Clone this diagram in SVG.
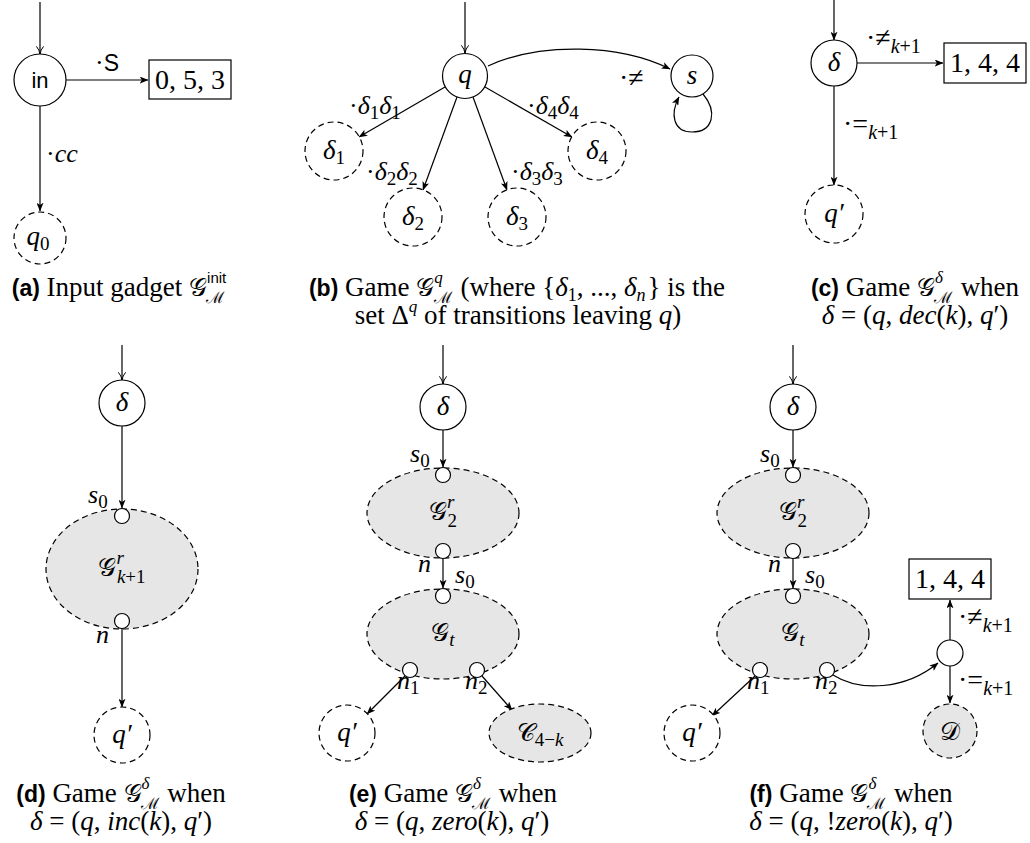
<svg xmlns="http://www.w3.org/2000/svg" width="1030" height="843" viewBox="0 0 1030 843">
<style>
.n{fill:#fff;stroke:#000;stroke-width:1.2}
.d{fill:#fff;stroke:#000;stroke-width:1.2;stroke-dasharray:6 4}
.g{fill:#e6e6e6;stroke:#000;stroke-width:1.2;stroke-dasharray:6 4}
.p{fill:#fff;stroke:#000;stroke-width:1.2}
.e{fill:none;stroke:#000;stroke-width:1.2;marker-end:url(#ah)}
.en{fill:none;stroke:#000;stroke-width:1.2;marker-end:url(#oh)}
.t{font-size:27px}
.l{font-size:26px}
.cap{font-size:27px}
.i{font-style:italic}
.b{font-weight:bold}
</style>
<defs>
<marker id="ah" viewBox="0 0 10 8" refX="9.5" refY="4" markerWidth="9" markerHeight="7" orient="auto" markerUnits="userSpaceOnUse"><path d="M0,0 L10,4 L0,8 L2.5,4 z" fill="#000"/></marker>
<marker id="oh" viewBox="0 0 10 10" refX="9.5" refY="5" markerWidth="9" markerHeight="9" orient="auto" markerUnits="userSpaceOnUse"><path d="M1,1 Q5,4.3 9.5,5 Q5,5.7 1,9" fill="none" stroke="#000" stroke-width="1.1"/></marker>
</defs>

<g id="connectors">
<line class="en" x1="40" y1="2" x2="40" y2="54"/>
<line class="e" x1="66" y1="80" x2="148" y2="80"/>
<line class="e" x1="40" y1="106" x2="40" y2="211"/>
<line class="en" x1="465" y1="2" x2="465" y2="53"/>
<line class="e" x1="445" y1="87" x2="359" y2="137"/>
<line class="e" x1="457" y1="97" x2="423" y2="190"/>
<line class="e" x1="473" y1="97" x2="507" y2="190"/>
<line class="e" x1="485" y1="87" x2="572" y2="137"/>
<path class="e" d="M488,66 C540,42 620,44 670,69"/>
<path class="e" d="M703,94 C718,112 713,132 692,132 C673,132 670,114 679,97"/>
<line class="e" x1="834" y1="0" x2="834" y2="40"/>
<line class="e" x1="857" y1="63" x2="943" y2="63"/>
<line class="e" x1="834" y1="86" x2="834" y2="185"/>
<line class="en" x1="122" y1="345" x2="122" y2="380"/>
<line class="e" x1="122" y1="426" x2="122" y2="508"/>
<line class="e" x1="122" y1="629" x2="122" y2="707"/>
<line class="en" x1="443" y1="345" x2="443" y2="384"/>
<line class="e" x1="443" y1="430" x2="443" y2="467"/>
<line class="e" x1="443" y1="559" x2="443" y2="588"/>
<line class="e" x1="405" y1="676" x2="367" y2="714"/>
<line class="e" x1="482" y1="676" x2="512" y2="710"/>
<line class="en" x1="793" y1="345" x2="793" y2="384"/>
<line class="e" x1="793" y1="430" x2="793" y2="467"/>
<line class="e" x1="793" y1="559" x2="793" y2="588"/>
<line class="e" x1="755" y1="676" x2="712" y2="716"/>
<path class="e" d="M833,675 C860,692 905,690 938,663"/>
<line class="e" x1="950" y1="640" x2="950" y2="600"/>
<line class="e" x1="950" y1="666" x2="950" y2="703"/>
</g>

<g id="a-in"><circle class="n" cx="40" cy="80" r="26"/><text font-family="Liberation Sans" font-size="22" x="40" y="88" text-anchor="middle">in</text></g>
<g id="a-box"><rect class="n" x="149" y="60" width="82" height="39"/><text font-family="Liberation Serif" font-size="28" x="190" y="89" text-anchor="middle">0, 5, 3</text></g>
<g id="a-q0"><circle class="d" cx="40" cy="238" r="26"/><text font-family="Liberation Serif" class="t" x="38" y="245" text-anchor="middle"><tspan class="i">q</tspan><tspan font-size="19" dy="5">0</tspan></text></g>
<g id="a-labels">
<text font-family="Liberation Serif" class="l" x="95" y="71">·<tspan font-family="Liberation Sans" font-size="23">S</tspan></text>
<text font-family="Liberation Serif" class="l" x="46" y="162">·<tspan class="i">cc</tspan></text>
</g>
<g id="a-caption"><text font-family="Liberation Serif" class="cap" x="119" y="296" text-anchor="middle"><tspan font-family="Liberation Sans" class="b" font-size="23">(a)</tspan> Input gadget <tspan font-family="DejaVu Serif" font-size="25">𝒢</tspan><tspan font-family="Liberation Sans" font-size="15" dy="-13">init</tspan><tspan font-family="DejaVu Serif" font-size="16" dx="-20" dy="20">ℳ</tspan></text></g>

<g id="b-q"><circle class="n" cx="465" cy="76" r="22.5"/><text font-family="Liberation Serif" class="t i" x="465" y="83" text-anchor="middle">q</text></g>
<g id="b-s"><circle class="n" cx="692" cy="76" r="21"/><text font-family="Liberation Serif" class="t i" x="692" y="84" text-anchor="middle">s</text></g>
<g id="b-d1"><circle class="d" cx="334" cy="151" r="29"/><text font-family="Liberation Serif" class="t" x="334" y="159" text-anchor="middle"><tspan class="i">δ</tspan><tspan font-size="19" dy="5">1</tspan></text></g>
<g id="b-d2"><circle class="d" cx="413" cy="217" r="29"/><text font-family="Liberation Serif" class="t" x="413" y="225" text-anchor="middle"><tspan class="i">δ</tspan><tspan font-size="19" dy="5">2</tspan></text></g>
<g id="b-d3"><circle class="d" cx="517" cy="217" r="29"/><text font-family="Liberation Serif" class="t" x="517" y="225" text-anchor="middle"><tspan class="i">δ</tspan><tspan font-size="19" dy="5">3</tspan></text></g>
<g id="b-d4"><circle class="d" cx="597" cy="151" r="29"/><text font-family="Liberation Serif" class="t" x="597" y="159" text-anchor="middle"><tspan class="i">δ</tspan><tspan font-size="19" dy="5">4</tspan></text></g>
<g id="b-labels">
<text font-family="Liberation Serif" class="l" x="349" y="114">·<tspan class="i">δ</tspan><tspan font-size="19" dy="5">1</tspan><tspan class="i" dy="-5">δ</tspan><tspan font-size="19" dy="5">1</tspan></text>
<text font-family="Liberation Serif" class="l" x="366" y="180">·<tspan class="i">δ</tspan><tspan font-size="19" dy="5">2</tspan><tspan class="i" dy="-5">δ</tspan><tspan font-size="19" dy="5">2</tspan></text>
<text font-family="Liberation Serif" class="l" x="511" y="180">·<tspan class="i">δ</tspan><tspan font-size="19" dy="5">3</tspan><tspan class="i" dy="-5">δ</tspan><tspan font-size="19" dy="5">3</tspan></text>
<text font-family="Liberation Serif" class="l" x="527" y="114">·<tspan class="i">δ</tspan><tspan font-size="19" dy="5">4</tspan><tspan class="i" dy="-5">δ</tspan><tspan font-size="19" dy="5">4</tspan></text>
<text font-family="Liberation Serif" font-size="28" x="619" y="87">·≠</text>
</g>
<g id="b-caption">
<text font-family="Liberation Serif" class="cap" x="517" y="296" text-anchor="middle"><tspan font-family="Liberation Sans" class="b" font-size="23">(b)</tspan> Game <tspan font-family="DejaVu Serif" font-size="25">𝒢</tspan><tspan class="i" font-size="17" dy="-13">q</tspan><tspan font-family="DejaVu Serif" font-size="16" dx="-9" dy="20">ℳ</tspan><tspan dx="2" dy="-7"> (where {</tspan><tspan class="i">δ</tspan><tspan font-size="18" dy="5">1</tspan><tspan dy="-5">, ..., </tspan><tspan class="i">δ</tspan><tspan class="i" font-size="18" dy="5">n</tspan><tspan dx="2" dy="-5">} is the</tspan></text>
<text font-family="Liberation Serif" class="cap" x="518" y="324" text-anchor="middle">set Δ<tspan class="i" font-size="17" dy="-12">q</tspan><tspan dy="12"> of transitions leaving </tspan><tspan class="i">q</tspan>)</text>
</g>

<g id="c-delta"><circle class="n" cx="834" cy="63" r="23"/><text font-family="Liberation Serif" class="t i" x="834" y="71" text-anchor="middle">δ</text></g>
<g id="c-box"><rect class="n" x="944" y="43" width="82" height="40"/><text font-family="Liberation Serif" font-size="28" x="985" y="72" text-anchor="middle">1, 4, 4</text></g>
<g id="c-q"><circle class="d" cx="834" cy="214" r="29"/><text font-family="Liberation Serif" class="t i" x="834" y="222" text-anchor="middle">q′</text></g>
<g id="c-labels">
<text font-family="Liberation Serif" font-size="28" x="866" y="47">·≠<tspan class="i" font-size="20" dy="6">k</tspan><tspan font-size="20">+1</tspan></text>
<text font-family="Liberation Serif" font-size="28" x="843" y="133">·=<tspan class="i" font-size="20" dy="6">k</tspan><tspan font-size="20">+1</tspan></text>
</g>
<g id="c-caption">
<text font-family="Liberation Serif" class="cap" x="915" y="296" text-anchor="middle"><tspan font-family="Liberation Sans" class="b" font-size="23">(c)</tspan> Game <tspan font-family="DejaVu Serif" font-size="25">𝒢</tspan><tspan class="i" font-size="17" dy="-13">δ</tspan><tspan font-family="DejaVu Serif" font-size="16" dx="-9" dy="20">ℳ</tspan><tspan dx="2" dy="-7"> when</tspan></text>
<text font-family="Liberation Serif" class="cap" x="915" y="324" text-anchor="middle"><tspan class="i">δ</tspan> = (<tspan class="i">q</tspan>, <tspan class="i">dec</tspan>(<tspan class="i">k</tspan>), <tspan class="i">q</tspan>′)</text>
</g>

<g id="d-delta"><circle class="n" cx="122" cy="403" r="23"/><text font-family="Liberation Serif" class="t i" x="122" y="411" text-anchor="middle">δ</text></g>
<g id="d-G"><ellipse class="g" cx="122" cy="569" rx="76" ry="60"/><text font-family="Liberation Serif" class="t" x="122" y="576" text-anchor="middle"><tspan font-family="DejaVu Serif" font-size="25">𝒢</tspan><tspan class="i" font-size="19" dy="-12">r</tspan><tspan font-size="19" dx="-7" dy="19"><tspan class="i">k</tspan>+1</tspan></text></g>
<g id="d-s0"><circle class="p" cx="122" cy="516" r="7.5"/><text font-family="Liberation Serif" class="l" x="88" y="503"><tspan class="i">s</tspan><tspan font-size="19" dy="5">0</tspan></text></g>
<g id="d-n"><circle class="p" cx="122" cy="621" r="7.5"/><text font-family="Liberation Serif" class="l i" x="96" y="643">n</text></g>
<g id="d-q"><circle class="d" cx="122" cy="735" r="28"/><text font-family="Liberation Serif" class="t i" x="122" y="743" text-anchor="middle">q′</text></g>
<g id="d-caption">
<text font-family="Liberation Serif" class="cap" x="121" y="802" text-anchor="middle"><tspan font-family="Liberation Sans" class="b" font-size="23">(d)</tspan> Game <tspan font-family="DejaVu Serif" font-size="25">𝒢</tspan><tspan class="i" font-size="17" dy="-13">δ</tspan><tspan font-family="DejaVu Serif" font-size="16" dx="-9" dy="20">ℳ</tspan><tspan dx="2" dy="-7"> when</tspan></text>
<text font-family="Liberation Serif" class="cap" x="121" y="830" text-anchor="middle"><tspan class="i">δ</tspan> = (<tspan class="i">q</tspan>, <tspan class="i">inc</tspan>(<tspan class="i">k</tspan>), <tspan class="i">q</tspan>′)</text>
</g>

<g id="e-delta"><circle class="n" cx="443" cy="407" r="23"/><text font-family="Liberation Serif" class="t i" x="443" y="415" text-anchor="middle">δ</text></g>
<g id="e-G2"><ellipse class="g" cx="443" cy="513" rx="76" ry="45"/><text font-family="Liberation Serif" class="t" x="443" y="520" text-anchor="middle"><tspan font-family="DejaVu Serif" font-size="25">𝒢</tspan><tspan class="i" font-size="19" dy="-12">r</tspan><tspan font-size="19" dx="-7" dy="19">2</tspan></text></g>
<g id="e-s0a"><circle class="p" cx="443" cy="475" r="7.5"/><text font-family="Liberation Serif" class="l" x="410" y="462"><tspan class="i">s</tspan><tspan font-size="19" dy="5">0</tspan></text></g>
<g id="e-n"><circle class="p" cx="443" cy="551" r="7.5"/><text font-family="Liberation Serif" class="l i" x="418" y="572">n</text></g>
<g id="e-Gt"><ellipse class="g" cx="443" cy="634" rx="76" ry="45"/><text font-family="Liberation Serif" class="t" x="443" y="641" text-anchor="middle"><tspan font-family="DejaVu Serif" font-size="25">𝒢</tspan><tspan class="i" font-size="19" dy="5">t</tspan></text></g>
<g id="e-s0b"><circle class="p" cx="443" cy="596" r="7.5"/><text font-family="Liberation Serif" class="l" x="455" y="583"><tspan class="i">s</tspan><tspan font-size="19" dy="5">0</tspan></text></g>
<g id="e-n1"><circle class="p" cx="410" cy="670" r="7.5"/><text font-family="Liberation Serif" class="l" x="397" y="689"><tspan class="i">n</tspan><tspan font-size="19" dy="5">1</tspan></text></g>
<g id="e-n2"><circle class="p" cx="477" cy="670" r="7.5"/><text font-family="Liberation Serif" class="l" x="465" y="689"><tspan class="i">n</tspan><tspan font-size="19" dy="5">2</tspan></text></g>
<g id="e-q"><circle class="d" cx="347" cy="733" r="28"/><text font-family="Liberation Serif" class="t i" x="347" y="741" text-anchor="middle">q′</text></g>
<g id="e-C"><ellipse class="g" cx="540" cy="733" rx="51" ry="29"/><text font-family="Liberation Serif" class="t" x="540" y="741" text-anchor="middle"><tspan font-family="DejaVu Serif" font-size="25">𝒞</tspan><tspan font-size="19" dy="5">4−<tspan class="i">k</tspan></tspan></text></g>
<g id="e-caption">
<text font-family="Liberation Serif" class="cap" x="453" y="802" text-anchor="middle"><tspan font-family="Liberation Sans" class="b" font-size="23">(e)</tspan> Game <tspan font-family="DejaVu Serif" font-size="25">𝒢</tspan><tspan class="i" font-size="17" dy="-13">δ</tspan><tspan font-family="DejaVu Serif" font-size="16" dx="-9" dy="20">ℳ</tspan><tspan dx="2" dy="-7"> when</tspan></text>
<text font-family="Liberation Serif" class="cap" x="452" y="830" text-anchor="middle"><tspan class="i">δ</tspan> = (<tspan class="i">q</tspan>, <tspan class="i">zero</tspan>(<tspan class="i">k</tspan>), <tspan class="i">q</tspan>′)</text>
</g>

<g id="f-delta"><circle class="n" cx="793" cy="407" r="23"/><text font-family="Liberation Serif" class="t i" x="793" y="415" text-anchor="middle">δ</text></g>
<g id="f-G2"><ellipse class="g" cx="793" cy="513" rx="76" ry="45"/><text font-family="Liberation Serif" class="t" x="793" y="520" text-anchor="middle"><tspan font-family="DejaVu Serif" font-size="25">𝒢</tspan><tspan class="i" font-size="19" dy="-12">r</tspan><tspan font-size="19" dx="-7" dy="19">2</tspan></text></g>
<g id="f-s0a"><circle class="p" cx="793" cy="475" r="7.5"/><text font-family="Liberation Serif" class="l" x="760" y="462"><tspan class="i">s</tspan><tspan font-size="19" dy="5">0</tspan></text></g>
<g id="f-n"><circle class="p" cx="793" cy="551" r="7.5"/><text font-family="Liberation Serif" class="l i" x="768" y="572">n</text></g>
<g id="f-Gt"><ellipse class="g" cx="793" cy="634" rx="76" ry="45"/><text font-family="Liberation Serif" class="t" x="793" y="641" text-anchor="middle"><tspan font-family="DejaVu Serif" font-size="25">𝒢</tspan><tspan class="i" font-size="19" dy="5">t</tspan></text></g>
<g id="f-s0b"><circle class="p" cx="793" cy="596" r="7.5"/><text font-family="Liberation Serif" class="l" x="805" y="583"><tspan class="i">s</tspan><tspan font-size="19" dy="5">0</tspan></text></g>
<g id="f-n1"><circle class="p" cx="760" cy="670" r="7.5"/><text font-family="Liberation Serif" class="l" x="747" y="689"><tspan class="i">n</tspan><tspan font-size="19" dy="5">1</tspan></text></g>
<g id="f-n2"><circle class="p" cx="827" cy="670" r="7.5"/><text font-family="Liberation Serif" class="l" x="815" y="689"><tspan class="i">n</tspan><tspan font-size="19" dy="5">2</tspan></text></g>
<g id="f-q"><circle class="d" cx="692" cy="733" r="28"/><text font-family="Liberation Serif" class="t i" x="692" y="741" text-anchor="middle">q′</text></g>
<g id="f-choice"><circle class="n" cx="950" cy="653" r="13"/></g>
<g id="f-box"><rect class="n" x="909" y="559" width="82" height="40"/><text font-family="Liberation Serif" font-size="28" x="950" y="588" text-anchor="middle">1, 4, 4</text></g>
<g id="f-D"><circle class="g" cx="950" cy="731" r="27"/><text font-family="DejaVu Serif" font-size="25" x="950" y="740" text-anchor="middle">𝒟</text></g>
<g id="f-labels">
<text font-family="Liberation Serif" font-size="28" x="958" y="626">·≠<tspan class="i" font-size="20" dy="6">k</tspan><tspan font-size="20">+1</tspan></text>
<text font-family="Liberation Serif" font-size="28" x="958" y="689">·=<tspan class="i" font-size="20" dy="6">k</tspan><tspan font-size="20">+1</tspan></text>
</g>
<g id="f-caption">
<text font-family="Liberation Serif" class="cap" x="851" y="802" text-anchor="middle"><tspan font-family="Liberation Sans" class="b" font-size="23">(f)</tspan> Game <tspan font-family="DejaVu Serif" font-size="25">𝒢</tspan><tspan class="i" font-size="17" dy="-13">δ</tspan><tspan font-family="DejaVu Serif" font-size="16" dx="-9" dy="20">ℳ</tspan><tspan dx="2" dy="-7"> when</tspan></text>
<text font-family="Liberation Serif" class="cap" x="851" y="830" text-anchor="middle"><tspan class="i">δ</tspan> = (<tspan class="i">q</tspan>, !<tspan class="i">zero</tspan>(<tspan class="i">k</tspan>), <tspan class="i">q</tspan>′)</text>
</g>
</svg>
